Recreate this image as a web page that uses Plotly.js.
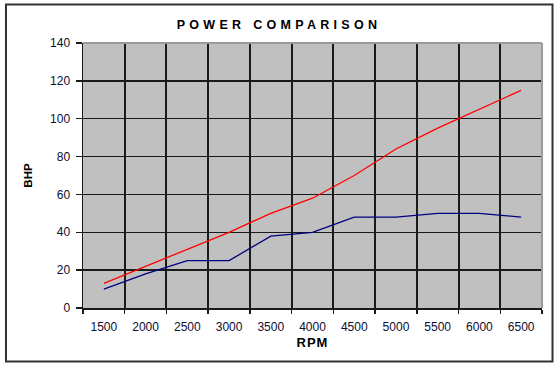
<!DOCTYPE html>
<html>
<head>
<meta charset="utf-8">
<script src="https://cdn.plot.ly/plotly-3.0.1.min.js"></script>
<style>
  html, body { margin: 0; padding: 0; background: #ffffff; }
  #chart { width: 558px; height: 366px; }
  .gtitle { letter-spacing: 4.3px; }
  .g-xtitle text { letter-spacing: 1px; }
</style>
</head>
<body>
<div id="chart"></div>
<script>
const rpm = ['1500','2000','2500','3000','3500','4000','4500','5000','5500','6000','6500'];
const seriesRed = [13, 22, 31, 40, 50, 58, 70, 84, 95, 105, 115];
const seriesBlue = [10, 18, 25, 25, 38, 40, 48, 48, 50, 50, 48];
const yTicks = [0, 20, 40, 60, 80, 100, 120, 140];

const font = 'Liberation Sans, Arial, sans-serif';
const tickColor = '#0d0d33';

const traces = [
  { x: rpm, y: seriesRed, type: 'scatter', mode: 'lines', name: 'Red',
    line: { color: '#ff0000', width: 1.3 }, hoverinfo: 'x+y' },
  { x: rpm, y: seriesBlue, type: 'scatter', mode: 'lines', name: 'Blue',
    line: { color: '#000080', width: 1.3 }, hoverinfo: 'x+y' }
];

const layout = {
  width: 558, height: 366,
  margin: { l: 83, r: 16, t: 43, b: 57.5, pad: 0 },
  paper_bgcolor: '#ffffff',
  plot_bgcolor: '#c0c0c0',
  showlegend: false,
  font: { family: font, size: 12, color: tickColor },
  title: {
    text: '<b>POWER COMPARISON</b>',
    font: { family: font, size: 12.5, color: '#000000' },
    x: 0.5, xref: 'container', xanchor: 'center',
    y: 1, yref: 'container', yanchor: 'top', pad: { t: 20 }
  },
  xaxis: {
    type: 'category',
    range: [-0.5, 10.5],
    tickson: 'boundaries',
    showgrid: true, gridcolor: '#1a1a1a', gridwidth: 2,
    ticks: 'outside', ticklen: 4, tickwidth: 1.5, tickcolor: '#1a1a1a',
    showline: true, linecolor: '#1a1a1a', linewidth: 1.5,
    tickfont: { family: font, size: 12, color: tickColor },
    ticklabelstandoff: 7,
    title: { text: '<b>RPM</b>', font: { family: font, size: 13, color: '#000000' }, standoff: 5 },
    zeroline: false, fixedrange: true
  },
  yaxis: {
    range: [0, 140],
    tickvals: yTicks,
    showgrid: true, gridcolor: '#1a1a1a', gridwidth: 1.5,
    ticks: 'outside', ticklen: 6, tickwidth: 1.5, tickcolor: '#1a1a1a',
    showline: true, linecolor: '#1a1a1a', linewidth: 1.5,
    tickfont: { family: font, size: 12, color: tickColor },
    ticklabelstandoff: 3,
    title: { text: '<b>BHP</b>', font: { family: font, size: 11.5, color: '#000000' }, standoff: 15 },
    zeroline: false, fixedrange: true
  },
  shapes: [
    { type: 'rect', xref: 'paper', yref: 'paper',
      x0: -0.1678, x1: 1.0229, y0: -0.2015, y1: 1.145,
      line: { color: '#333333', width: 2 }, fillcolor: 'rgba(0,0,0,0)', layer: 'below' },
    { type: 'line', xref: 'paper', yref: 'paper', x0: 0, x1: 1, y0: 1, y1: 1,
      line: { color: '#9a9a9a', width: 2 }, layer: 'above' },
    { type: 'line', xref: 'paper', yref: 'paper', x0: 1, x1: 1, y0: 0, y1: 1,
      line: { color: '#9a9a9a', width: 2 }, layer: 'above' }
  ]
};

Plotly.newPlot('chart', traces, layout, { displayModeBar: false, staticPlot: true });
</script>
</body>
</html>
